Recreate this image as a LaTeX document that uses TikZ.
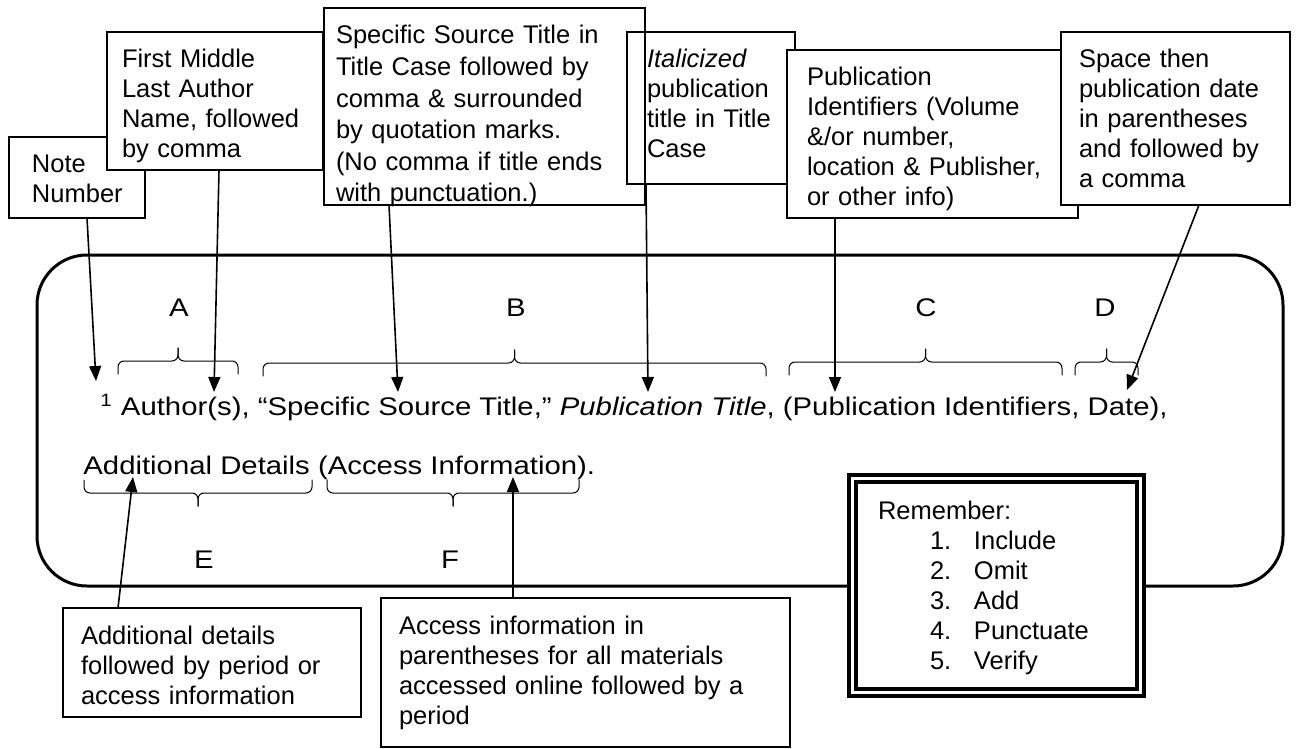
\documentclass[tikz,border=0pt]{standalone}
\usepackage{fontspec}
\setmainfont{Liberation Sans}
\newfontfamily\widefont[FakeStretch=1.15]{Liberation Sans}
\usetikzlibrary{arrows.meta}

\newcommand{\boxfont}{\fontsize{12.75}{15}\selectfont}
\newcommand{\citefont}{\widefont\fontsize{12.75}{15}\selectfont}
% curly bracket: left x, right x, bar y, side (1 = spike up, -1 = spike down)
\newcommand{\curly}[4]{%
  \draw[bracket] (#1,{#3+13*#4}) -- (#1,#3) -- ({(#1+#2)/2},#3) -- ({(#1+#2)/2},{#3-13*#4});
  \draw[bracket] ({(#1+#2)/2},{#3-13*#4}) -- ({(#1+#2)/2},#3) -- (#2,#3) -- (#2,{#3+13*#4});}

\begin{document}
\begin{tikzpicture}[x=0.5pt,y=-0.5pt,line cap=round,
  tbox/.style={draw,line width=0.8pt,anchor=north west,align=left,outer sep=0pt,
    inner xsep=9pt,inner ysep=0pt,text height=18pt,font=\boxfont},
  pointer/.style={-{Triangle[length=7.5pt,width=6pt]},line width=0.8pt},
  bracket/.style={line width=0.5pt,rounded corners=3pt},
  letter/.style={font=\citefont,inner sep=0pt}]
\useasboundingbox (0,0) rectangle (1297,749);

% frame round the citation
\draw[line width=1.5pt,rounded corners=25pt] (37,255) rectangle (1283,586);

% boxes along the top
\node[tbox,fill=white,inner xsep=11.5pt,text width=45pt,text depth=22.5pt] (note) at (9,137) {Note\\Number};
\node[tbox,fill=white,inner xsep=7.5pt,text width=93pt,text depth=51pt] (author) at (107,32)
  {First Middle\\Last Author\\Name, followed\\by comma};
\node[tbox,fill=white,inner xsep=6pt,text width=148.5pt,text depth=80.5pt,
  font=\fontsize{12.75}{15.8}\selectfont] (source) at (324,8)
  {Specific Source Title in\\Title Case followed by\\comma \& surrounded\\by quotation marks.\\(No comma if title ends\\with punctuation.)};
\node[tbox,inner xsep=10pt,text width=64pt,text depth=58pt] (italic) at (627,32)
  {\textit{Italicized}\\publication\\title in Title\\Case};
\node[tbox,fill=white,inner xsep=10pt,text width=125.5pt,text depth=66pt] (ident) at (787,50)
  {Publication\\Identifiers (Volume\\\&/or number,\\location \& Publisher,\\or other info)};
\node[tbox,fill=white,text width=96.5pt,text depth=68.5pt] (date) at (1061,32)
  {Space then\\publication date\\in parentheses\\and followed by\\a comma};

% the citation
\node[anchor=base west,inner sep=0pt,font=\citefont] (line1) at (100,415)
  {\textsuperscript{1} Author(s), “Specific Source Title,” \textit{Publication Title}, (Publication Identifiers, Date),};
\node[anchor=base west,inner sep=0pt,font=\citefont] (line2) at (83,474)
  {Additional Details (Access Information).};

% parts
\node[letter] (partA) at (179,308) {A};
\node[letter] (partB) at (516,308) {B};
\node[letter] (partC) at (926,308) {C};
\node[letter] (partD) at (1105,308) {D};
\node[letter] (partE) at (204,560) {E};
\node[letter] (partF) at (450,560) {F};
\curly{118}{238}{361}{1}
\curly{263}{766}{363}{1}
\curly{789}{1062}{362}{1}
\curly{1075}{1138}{362}{1}
\curly{84}{312}{493}{-1}
\curly{327}{579}{493}{-1}

% remember box
\node[tbox,fill=white,line width=2pt,double,double distance=1.5pt,inner xsep=12.75pt,
  text width=118.5pt,text height=20.25pt,text depth=86.75pt] (remember) at (852.5,478.5)
  {Remember:\\
   \hspace*{26pt}\makebox[22pt][l]{1.}Include\\
   \hspace*{26pt}\makebox[22pt][l]{2.}Omit\\
   \hspace*{26pt}\makebox[22pt][l]{3.}Add\\
   \hspace*{26pt}\makebox[22pt][l]{4.}Punctuate\\
   \hspace*{26pt}\makebox[22pt][l]{5.}Verify};

% boxes below
\node[tbox,fill=white,text width=131pt,text depth=36.5pt] (details) at (63,608)
  {Additional details\\followed by period or\\access information};
\node[tbox,fill=white,text width=186.5pt,text depth=56.5pt] (access) at (381,598)
  {Access information in\\parentheses for all materials\\accessed online followed by a\\period};

% pointers
\coordinate (numTip) at (96,381);
\coordinate (authTip) at (214,392);
\coordinate (srcTip) at (398,392);
\coordinate (pubTip) at (648,392);
\coordinate (identTip) at (835,392);
\coordinate (dateTip) at (1127,390);
\coordinate (addTip) at (133,477);
\coordinate (accTip) at (513,477);
\draw[pointer] ([xshift=5pt]note.south) -- (numTip);
\draw[pointer] ([xshift=2pt]author.south) -- (authTip);
\draw[pointer] ([xshift=-47.75pt]source.south) -- (srcTip);
\draw[pointer] ([xshift=-32.5pt]italic.south) -- (pubTip);
\draw[pointer] ([xshift=-48.75pt]ident.south) -- (identTip);
\draw[pointer] ([xshift=11.75pt]date.south) -- (dateTip);
\draw[pointer] ([xshift=-47pt]details.north) -- (addTip);
\draw[pointer] ([xshift=-36.25pt]access.north) -- (accTip);
\end{tikzpicture}
\end{document}
